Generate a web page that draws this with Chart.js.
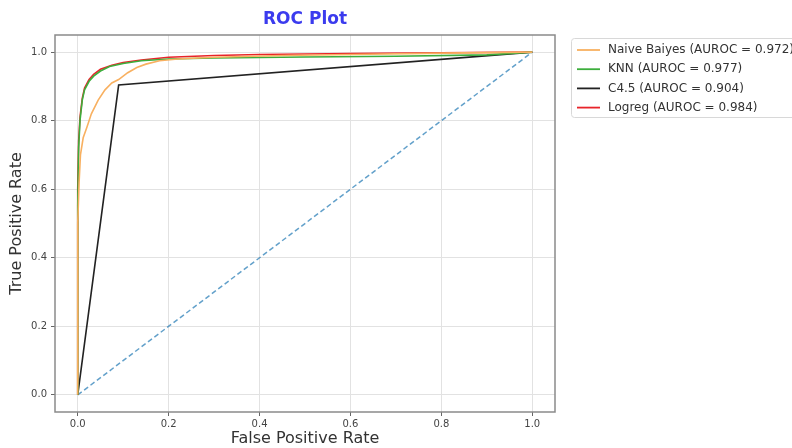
<!DOCTYPE html>
<html>
<head>
<meta charset="utf-8">
<script src="https://cdn.jsdelivr.net/npm/chart.js@4.4.1/dist/chart.umd.min.js"></script>
<style>
  html, body { margin: 0; padding: 0; background: #fff; }
  canvas { display: block; }
</style>
</head>
<body>
<canvas id="c" width="792" height="448"></canvas>
<script>
// ---- data ----
const seriesLabels = [
  "Naive Baiyes (AUROC = 0.972)",
  "KNN (AUROC = 0.977)",
  "C4.5 (AUROC = 0.904)",
  "Logreg (AUROC = 0.984)"
];
const nbFpr = [0, 0, 0.003, 0.006, 0.012, 0.02, 0.03, 0.045, 0.06, 0.075, 0.09, 0.11, 0.13, 0.15, 0.18, 0.22, 0.3, 0.45, 0.6, 0.8, 1];
const nbTpr = [0, 0.5, 0.62, 0.70, 0.75, 0.78, 0.82, 0.86, 0.89, 0.91, 0.92, 0.94, 0.955, 0.965, 0.975, 0.98, 0.985, 0.99, 0.993, 0.997, 1];
const knnFpr = [0, 0, 0.002, 0.005, 0.01, 0.015, 0.025, 0.035, 0.05, 0.07, 0.1, 0.14, 0.2, 0.3, 0.5, 0.7, 0.9, 1];
const knnTpr = [0, 0.55, 0.72, 0.80, 0.86, 0.89, 0.915, 0.93, 0.945, 0.958, 0.967, 0.975, 0.98, 0.983, 0.986, 0.988, 0.992, 1];
const c45Fpr = [0, 0.09, 1];
const c45Tpr = [0, 0.904, 1];
const lrFpr = [0, 0, 0.002, 0.005, 0.01, 0.015, 0.025, 0.035, 0.05, 0.075, 0.1, 0.14, 0.2, 0.3, 0.4, 0.6, 0.8, 1];
const lrTpr = [0, 0.6, 0.74, 0.81, 0.865, 0.895, 0.92, 0.935, 0.95, 0.962, 0.97, 0.977, 0.985, 0.99, 0.993, 0.996, 0.998, 1];
const diagX = [0, 1];
const diagY = [0, 1];
const tickValues = [0, 0.2, 0.4, 0.6, 0.8, 1.0];
const colors = ["#f8b060", "#3cae3c", "#222222", "#e8242a"];

const pts = (xs, ys) => xs.map((x, i) => ({ x: x, y: ys[i] }));

const datasets = [
  { label: seriesLabels[0], data: pts(nbFpr, nbTpr), borderColor: colors[0], borderWidth: 1.6 },
  { label: seriesLabels[1], data: pts(knnFpr, knnTpr), borderColor: colors[1], borderWidth: 1.6 },
  { label: seriesLabels[2], data: pts(c45Fpr, c45Tpr), borderColor: colors[2], borderWidth: 1.6 },
  { label: seriesLabels[3], data: pts(lrFpr, lrTpr), borderColor: colors[3], borderWidth: 1.6 },
  { label: "diag", data: pts(diagX, diagY), borderColor: "rgba(31,119,180,0.7)", borderWidth: 1.5, borderDash: [5, 3] }
].map(d => Object.assign({ showLine: true, pointRadius: 0, fill: false, tension: 0 }, d));

const FONT = "'DejaVu Sans', sans-serif";

const decor = {
  id: 'decor',
  afterDatasetsDraw(chart) {
    const ctx = chart.ctx, a = chart.chartArea;
    ctx.save();
    // full frame
    ctx.strokeStyle = '#8a8a8a';
    ctx.lineWidth = 1.5;
    ctx.strokeRect(a.left, a.top, a.right - a.left, a.bottom - a.top);
    // title
    ctx.fillStyle = '#3b3bee';
    ctx.font = "bold 17px " + FONT;
    ctx.textAlign = 'center';
    ctx.textBaseline = 'middle';
    ctx.fillText('ROC Plot', (a.left + a.right) / 2, 20);
    // legend
    const lx = 571, ly = 38;
    ctx.strokeStyle = '#d8d8d8';
    ctx.lineWidth = 1;
    ctx.fillStyle = 'rgba(255,255,255,0.9)';
    ctx.beginPath();
    if (ctx.roundRect) ctx.roundRect(lx + 0.5, ly + 0.5, 240, 79, 3); else ctx.rect(lx + 0.5, ly + 0.5, 240, 79);
    ctx.fill(); ctx.stroke();
    ctx.font = "12px " + FONT;
    ctx.textAlign = 'left';
    seriesLabels.forEach((lab, i) => {
      const y = 50 + i * 19.2;
      ctx.strokeStyle = colors[i];
      ctx.lineWidth = 1.8;
      ctx.beginPath(); ctx.moveTo(577, y); ctx.lineTo(600, y); ctx.stroke();
      ctx.fillStyle = '#333';
      ctx.fillText(lab, 608, y);
    });
    ctx.restore();
  }
};

new Chart(document.getElementById('c'), {
  type: 'scatter',
  data: { datasets },
  options: {
    responsive: false,
    animation: false,
    layout: { padding: { top: 35, right: 237, left: 0, bottom: 0 } },
    plugins: { legend: { display: false }, tooltip: { enabled: false }, title: { display: false } },
    scales: {
      x: {
        type: 'linear', min: -0.05, max: 1.05,
        afterBuildTicks: s => { s.ticks = tickValues.map(v => ({ value: v })); },
        afterFit: s => { s.height = 36; },
        ticks: { callback: v => Number(v).toFixed(1), color: '#444', font: { family: FONT, size: 10 }, padding: 2, maxRotation: 0 },
        grid: { color: '#e2e2e2', tickLength: 4, tickColor: '#666', lineWidth: 1 },
        border: { display: false },
        title: { display: true, text: 'False Positive Rate', color: '#333', font: { family: FONT, size: 16 }, padding: { top: 0, bottom: 0 } }
      },
      y: {
        type: 'linear', min: -0.05, max: 1.05,
        afterBuildTicks: s => { s.ticks = tickValues.map(v => ({ value: v })); },
        afterFit: s => { s.width = 55; },
        ticks: { callback: v => Number(v).toFixed(1), color: '#444', font: { family: FONT, size: 10 }, padding: 4 },
        grid: { color: '#e2e2e2', tickLength: 4, tickColor: '#666', lineWidth: 1 },
        border: { display: false },
        title: { display: true, text: 'True Positive Rate', color: '#333', font: { family: FONT, size: 16 }, padding: { top: 7, bottom: 0 } }
      }
    }
  },
  plugins: [decor]
});
</script>
</body>
</html>
